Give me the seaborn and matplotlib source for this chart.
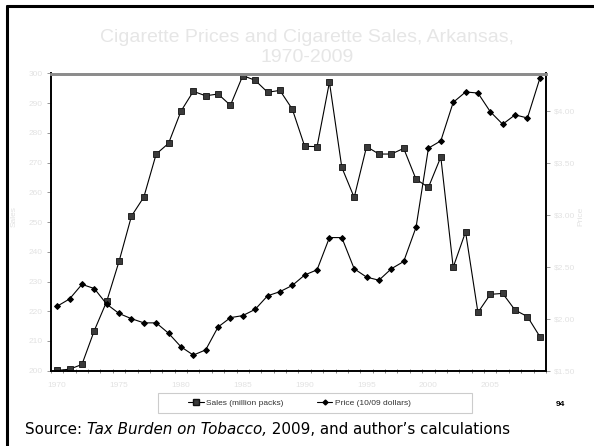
import matplotlib
matplotlib.use("Agg")
import matplotlib.pyplot as plt
import matplotlib.lines as mlines
import matplotlib.patches as mpatches
from matplotlib.ticker import FixedLocator, FuncFormatter
import seaborn as sns
import pandas as pd

years = list(range(1970, 2010))
sales = [200.1, 200.5, 202.1, 213.5, 223.3, 236.8, 252.0, 258.4, 272.9, 276.5,
         287.3, 294.0, 292.5, 293.1, 289.3, 299.3, 297.7, 293.7, 294.3, 288.0,
         275.5, 275.4, 297.1, 268.4, 258.3, 275.4, 272.9, 272.9, 274.8, 264.4,
         261.7, 271.9, 234.8, 246.7, 219.6, 225.7, 226.0, 220.4, 218.2, 211.5]
price = [2.12, 2.19, 2.33, 2.29, 2.14, 2.05, 2.00, 1.96, 1.96, 1.86,
         1.73, 1.65, 1.70, 1.92, 2.01, 2.03, 2.09, 2.22, 2.26, 2.32,
         2.42, 2.47, 2.78, 2.78, 2.48, 2.40, 2.37, 2.48, 2.55, 2.88,
         3.64, 3.71, 4.08, 4.18, 4.17, 3.99, 3.87, 3.96, 3.93, 4.31]
sales_ticks = list(range(200, 301, 10))
price_ticks = [1.5, 2.0, 2.5, 3.0, 3.5, 4.0]
year_labels = list(range(1970, 2010, 5))

df = pd.DataFrame({"year": years, "sales": sales, "price": price})

sns.set_theme(style="white")
plt.rcParams["font.family"] = ["Liberation Sans", "DejaVu Sans"]

W, H = 594, 446
faint = "#e2e2e2"
fig = plt.figure(figsize=(W / 100, H / 100), dpi=100)
ax = fig.add_axes([51 / W, 1 - 370.7 / H, 495 / W, (370.7 - 73.5) / H])

sns.lineplot(data=df, x="year", y="sales", ax=ax, color="black", linewidth=0.8,
             marker="s", markersize=5, markerfacecolor="#3a3a3a",
             markeredgecolor="#111111", markeredgewidth=0.6, legend=False)
ax2 = ax.twinx()
sns.lineplot(data=df, x="year", y="price", ax=ax2, color="black", linewidth=0.8,
             marker="D", markersize=3, markerfacecolor="black",
             markeredgecolor="black", legend=False)

ax.set_xlim(1969.5, 2009.5)
ax.set_ylim(200, 300)
ax2.set_ylim(1.5, 1.5 + (370.7 - 73.5) / 104)

ax.xaxis.set_major_locator(FixedLocator(year_labels))
ax.xaxis.set_minor_locator(FixedLocator([y + 0.5 for y in range(1969, 2010)]))
ax.set_yticks(sales_ticks)
ax2.set_yticks(price_ticks)
ax2.yaxis.set_major_formatter(FuncFormatter(lambda v, p: f"${v:.2f}"))

ax.tick_params(axis="x", which="major", length=0, pad=8, labelsize=6, labelcolor=faint)
ax.tick_params(axis="x", which="minor", length=3, width=0.6, color="#777777",
               direction="inout", bottom=True)
ax.tick_params(axis="y", length=3, width=0.6, color="#888888", direction="out",
               left=True, labelsize=6, labelcolor=faint, pad=3)
ax2.tick_params(axis="y", length=3, width=0.6, color="#888888", direction="out",
                right=True, labelsize=6, labelcolor=faint, pad=3)

ax.set_xlabel("")
ax.set_ylabel("")
ax2.set_ylabel("")
fig.text(14 / W, 1 - 217 / H, "Sales", rotation=90, ha="center", va="center",
         fontsize=6, color=faint)
fig.text(581 / W, 1 - 216 / H, "Price", rotation=90, ha="center", va="center",
         fontsize=6, color=faint)

for a in (ax, ax2):
    for side in ("left", "right", "bottom"):
        a.spines[side].set_color("black")
        a.spines[side].set_linewidth(1.2)
    a.spines["top"].set_color("#8c8c8c")
    a.spines["top"].set_linewidth(2)
    a.grid(False)

fig.text(307 / W, 1 - 37 / H, "Cigarette Prices and Cigarette Sales, Arkansas,",
         ha="center", va="center", fontsize=14, color="#e6e6e6")
fig.text(307 / W, 1 - 58 / H, "1970-2009",
         ha="center", va="center", fontsize=14, color="#e6e6e6")

# legend: entries on the left of a wide light-gray box
fig.add_artist(mpatches.Rectangle((158 / W, 1 - 413 / H), 314 / W, 20 / H,
                                  transform=fig.transFigure, facecolor="white",
                                  edgecolor="#cccccc", linewidth=0.8))
sales_h = mlines.Line2D([], [], color="black", linewidth=0.8, marker="s", markersize=4,
                        markerfacecolor="#3a3a3a", markeredgecolor="#111111")
price_h = mlines.Line2D([], [], color="black", linewidth=0.8, marker="D", markersize=2.5,
                        markerfacecolor="black", markeredgecolor="black")
leg = fig.legend([sales_h, price_h], ["Sales (million packs)", "Price (10/09 dollars)"],
                 loc="center left", bbox_to_anchor=(188 / W, 1 - 403 / H), ncol=2,
                 fontsize=6, frameon=False, handlelength=1.9,
                 columnspacing=4.0, borderpad=0.0, borderaxespad=0.0,
                 handletextpad=0.25)
for t in leg.get_texts():
    t.set_color("#333333")

# source line: plain / italic / plain runs laid end to end, sized to span 25..510 px
src_parts = [("Source: ", "normal"), ("Tax Burden on Tobacco,", "italic"),
             (" 2009, and author\u2019s calculations", "normal")]
src_y = 1 - 429 / H
r = fig.canvas.get_renderer()


def place_source(size):
    x = 25.0
    made = []
    for txt, sty in src_parts:
        t = fig.text(x / W, src_y, txt, ha="left", va="center", fontsize=size,
                     family="DejaVu Sans", style=sty, color="black")
        x = t.get_window_extent(r).x1
        made.append(t)
    return made, x


parts, x_end = place_source(11)
for t in parts:
    t.remove()
size = 11 * (510 - 25) / (x_end - 25)
place_source(size)

fig.text(560 / W, 1 - 405 / H, "94", ha="center", va="center", fontsize=6,
         fontweight="bold", color="black")

# slide frame along the top and left edges
fig.add_artist(mlines.Line2D([7 / W, 7 / W], [0, 1 - 6 / H], color="black",
                             linewidth=2.2, transform=fig.transFigure))
fig.add_artist(mlines.Line2D([7 / W, 1], [1 - 6 / H, 1 - 6 / H], color="black",
                             linewidth=2.2, transform=fig.transFigure))

fig.savefig("out.png", dpi=100)
